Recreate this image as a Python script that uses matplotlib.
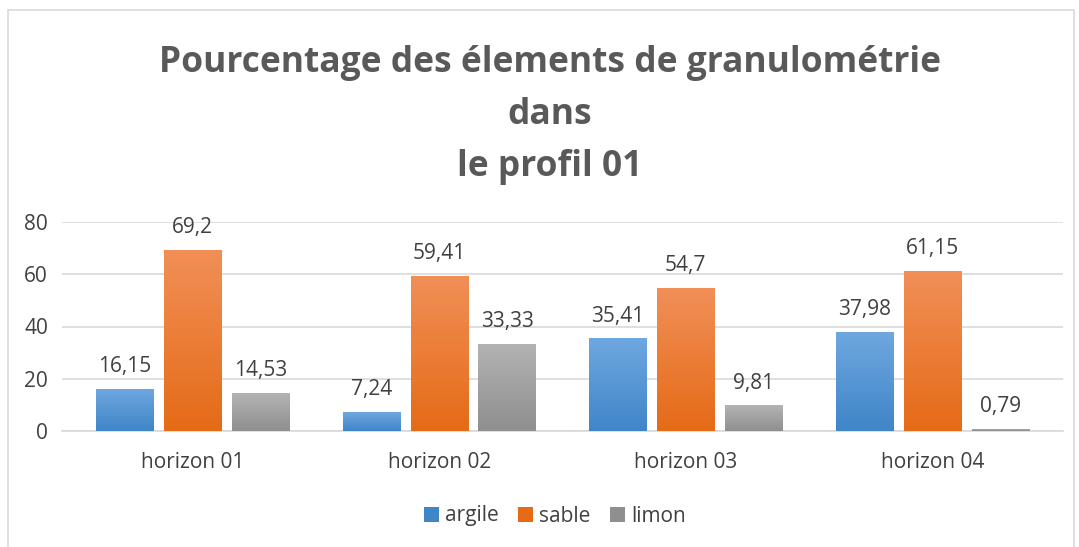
import numpy as np
import matplotlib.pyplot as plt
from matplotlib.patches import Rectangle
from matplotlib.colors import to_rgb

## data
categories = ['horizon 01', 'horizon 02', 'horizon 03', 'horizon 04']
series = ['argile', 'sable', 'limon']
argile = [16.15, 7.24, 35.41, 37.98]
sable = [69.2, 59.41, 54.7, 61.15]
limon = [14.53, 33.33, 9.81, 0.79]
labels = {
    'argile': ['16,15', '7,24', '35,41', '37,98'],
    'sable': ['69,2', '59,41', '54,7', '61,15'],
    'limon': ['14,53', '33,33', '9,81', '0,79'],
}

# top / bottom colours of the gradients
grad = {
    'argile': ('#6fa7e0', '#3f86c8'),
    'sable': ('#f18f57', '#e56b17'),
    'limon': ('#b3b3b3', '#8f8f8f'),
}

plt.rcParams['font.family'] = ['Open Sans', 'DejaVu Sans']
txt = '#404040'
fs = 15

fig = plt.figure(figsize=(10.79, 5.47), dpi=100)
fig.patches.append(Rectangle((8 / 1079, -0.05), 1066 / 1079, 1 - 10 / 547 + 0.05,
                             transform=fig.transFigure, fill=False,
                             edgecolor='#d9d9d9', linewidth=1.2))
ax = fig.add_axes([62 / 1079, 1 - 431 / 547, 1001 / 1079, 209 / 547])

x = np.arange(len(categories))
w = 0.232
step = 0.275
values = {'argile': argile, 'sable': sable, 'limon': limon}

for i, s in enumerate(series):
    pos = x + (i - 1) * step
    bars = ax.bar(pos, values[s], width=w, color=grad[s][1], label=s, zorder=2)
    c0, c1 = np.array(to_rgb(grad[s][0])), np.array(to_rgb(grad[s][1]))
    g = np.linspace(0, 1, 64)[:, None, None]
    img = c0 * (1 - g) + c1 * g
    for b, lab in zip(bars, labels[s]):
        x0, h = b.get_x(), b.get_height()
        im = ax.imshow(img, extent=(x0, x0 + w, 0, h), aspect='auto', zorder=3,
                       origin='upper')
        im.set_clip_path(b)
        ax.text(x0 + w / 2, h + 4.5, lab, ha='center', va='bottom',
                fontsize=fs, color=txt, zorder=4)

ax.set_xlim(-0.53, 3.53)
ax.set_ylim(0, 80)
ax.set_yticks([0, 20, 40, 60, 80])
ax.set_xticks(x)
ax.set_xticklabels(categories)
ax.tick_params(axis='both', length=0, labelsize=fs, colors=txt)
ax.tick_params(axis='x', pad=15)
ax.tick_params(axis='y', pad=10)
ax.grid(axis='y', color='#d9d9d9', linewidth=1.2, zorder=0)
for sp in ['top', 'right', 'left']:
    ax.spines[sp].set_visible(False)
ax.spines['bottom'].set_color('#d9d9d9')
ax.spines['bottom'].set_linewidth(1.2)

fig.text(550 / 1079, 1 - 115 / 547,
         'Pourcentage des élements de granulométrie\ndans\nle profil 01',
         ha='center', va='center', fontsize=25.5, fontweight='bold',
         color='#595959', linespacing=1.6)

leg = ax.legend(loc='center', bbox_to_anchor=(555 / 1079, 1 - 516 / 547),
                bbox_transform=fig.transFigure, ncol=3, frameon=False,
                fontsize=fs, handlelength=0.7, handleheight=0.7,
                handletextpad=0.3, columnspacing=0.95)
for t in leg.get_texts():
    t.set_color(txt)

fig.savefig('out.png', dpi=100)
